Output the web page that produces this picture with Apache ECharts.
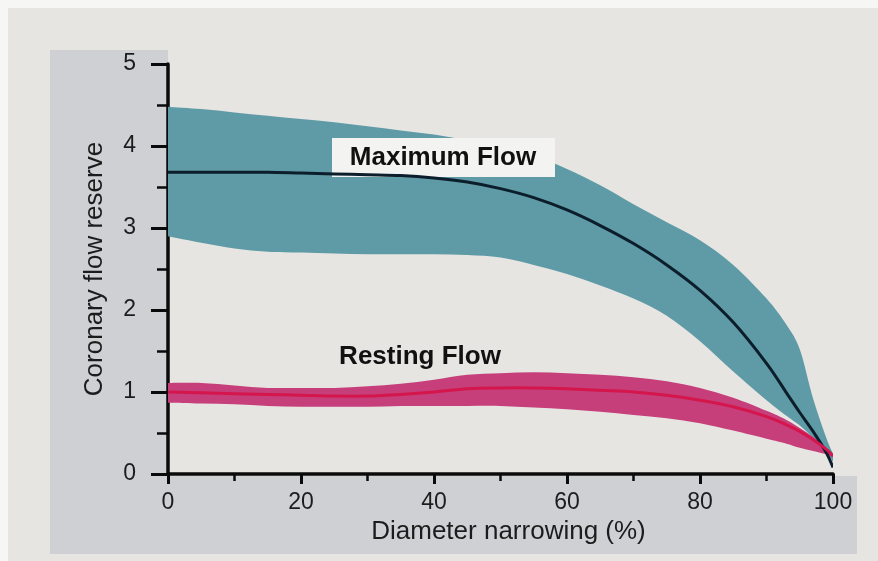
<!DOCTYPE html>
<html><head><meta charset="utf-8">
<script src="https://cdn.jsdelivr.net/npm/echarts@6/dist/echarts.min.js"></script>
<style>html,body{margin:0;padding:0;background:#e7e5e2}#c{width:878px;height:561px}</style>
</head><body><div id="c"></div>
<script>
// Diameter narrowing (%) sample positions
const narrowing = [0,5,10,15,20,25,30,35,40,45,50,55,60,65,70,75,80,85,90,93,95,97,99,100];
// Maximum flow: upper edge, mean curve, lower edge of the band
const maxUpper = [4.48,4.45,4.41,4.37,4.33,4.29,4.24,4.19,4.14,4.07,3.99,3.88,3.72,3.52,3.29,3.07,2.85,2.55,2.14,1.82,1.52,0.92,0.44,0.25];
const maxMean  = [3.68,3.68,3.68,3.68,3.67,3.66,3.65,3.64,3.61,3.56,3.48,3.37,3.22,3.03,2.81,2.55,2.24,1.85,1.35,0.99,0.75,0.52,0.26,0.08];
const maxLower = [2.90,2.82,2.75,2.71,2.70,2.69,2.68,2.68,2.68,2.67,2.64,2.55,2.44,2.30,2.14,1.93,1.62,1.25,0.90,0.71,0.59,0.44,0.26,0.15];
// Resting flow: upper edge, mean curve, lower edge of the band
const restUpper = [1.11,1.11,1.08,1.05,1.05,1.05,1.07,1.10,1.15,1.21,1.23,1.24,1.23,1.21,1.18,1.13,1.05,0.93,0.77,0.66,0.56,0.45,0.32,0.24];
const restMean  = [1.00,0.99,0.98,0.97,0.96,0.95,0.95,0.97,1.00,1.04,1.05,1.05,1.04,1.02,1.00,0.96,0.90,0.82,0.70,0.60,0.52,0.42,0.30,0.22];
const restLower = [0.87,0.86,0.85,0.83,0.82,0.82,0.82,0.83,0.83,0.83,0.83,0.81,0.79,0.76,0.72,0.68,0.62,0.53,0.43,0.37,0.32,0.28,0.24,0.20];
// Axis ticks
const xTicks = [0,20,40,60,80,100];
const yTicks = [0,1,2,3,4,5];
const labels = {max:'Maximum Flow', rest:'Resting Flow', x:'Diameter narrowing (%)', y:'Coronary flow reserve'};

const FONT = '"Liberation Sans", Arial, Helvetica, sans-serif';
const chart = echarts.init(document.getElementById('c'), null, {renderer:'canvas'});

// Catmull-Rom style cubic segments through pixel points (rendering only)
function curveSegs(pts, t){
  let d = '';
  for (let i = 0; i < pts.length - 1; i++){
    const p0 = pts[Math.max(i-1,0)], p1 = pts[i], p2 = pts[i+1], p3 = pts[Math.min(i+2, pts.length-1)];
    const c1 = [p1[0] + (p2[0]-p0[0])*t/3, p1[1] + (p2[1]-p0[1])*t/3];
    const c2 = [p2[0] - (p3[0]-p1[0])*t/3, p2[1] - (p3[1]-p1[1])*t/3];
    d += ' C' + c1[0] + ' ' + c1[1] + ' ' + c2[0] + ' ' + c2[1] + ' ' + p2[0] + ' ' + p2[1];
  }
  return d;
}
function band(upper, lower, color, z){
  return {
    type:'custom', coordinateSystem:'cartesian2d', z:z, clip:true, silent:true,
    data: narrowing.map((x,i)=>[x, upper[i], lower[i]]),
    encode:{x:0, y:[1,2]},
    renderItem:function(params, api){
      if (params.dataIndex !== 0) return null;
      const top = narrowing.map((x,i)=>api.coord([x, upper[i]]));
      const bot = narrowing.map((x,i)=>api.coord([x, lower[i]])).reverse();
      const d = 'M' + top[0][0] + ' ' + top[0][1] + curveSegs(top, 0.5) +
                ' L' + bot[0][0] + ' ' + bot[0][1] + curveSegs(bot, 0.5) + ' Z';
      return {type:'path', shape:{pathData:d}, style:{fill:color}};
    }
  };
}
function meanLine(vals, color, z){
  return {
    type:'custom', coordinateSystem:'cartesian2d', z:z, clip:true, silent:true,
    data: narrowing.map((x,i)=>[x, vals[i]]),
    encode:{x:0, y:1},
    renderItem:function(params, api){
      if (params.dataIndex !== 0) return null;
      const pts = narrowing.map((x,i)=>api.coord([x, vals[i]]));
      const d = 'M' + pts[0][0] + ' ' + pts[0][1] + curveSegs(pts, 0.5);
      return {type:'path', shape:{pathData:d}, style:{fill:null, stroke:color, lineWidth:3}};
    }
  };
}

chart.setOption({
  animation:false,
  backgroundColor:'#e7e5e2',
  grid:{left:168, right:45, top:64, bottom:87, containLabel:false},
  xAxis:{type:'value', min:0, max:100, interval:20,
    name:labels.x, nameLocation:'middle', nameGap:36,
    nameTextStyle:{fontFamily:FONT, fontSize:26, color:'#1c1c1c', padding:[0,0,0,16]},
    axisLine:{show:true, onZero:false, lineStyle:{color:'#0a0a0a', width:3.5}},
    axisTick:{show:true, inside:false, length:10, lineStyle:{color:'#0a0a0a', width:3}},
    minorTick:{show:true, splitNumber:2, length:7, lineStyle:{color:'#0a0a0a', width:2.5}},
    splitLine:{show:false},
    axisLabel:{fontFamily:FONT, fontSize:23, color:'#1c1c1c', margin:17,
      formatter:v=>xTicks.includes(v)?String(v):''}
  },
  yAxis:{type:'value', min:0, max:5, interval:1,
    name:labels.y, nameLocation:'middle', nameGap:60, nameRotate:90,
    nameTextStyle:{fontFamily:FONT, fontSize:26, color:'#1c1c1c'},
    axisLine:{show:true, onZero:false, lineStyle:{color:'#0a0a0a', width:3.5}},
    axisTick:{show:true, inside:false, length:17, lineStyle:{color:'#0a0a0a', width:3}},
    minorTick:{show:true, splitNumber:2, length:11, lineStyle:{color:'#0a0a0a', width:2.5}},
    splitLine:{show:false},
    axisLabel:{fontFamily:FONT, fontSize:23, color:'#1c1c1c', margin:32,
      formatter:v=>yTicks.includes(v)?String(v):''}
  },
  graphic:[
    {type:'rect', silent:true, z:-100, shape:{x:0,y:0,width:878,height:8}, style:{fill:'#f6f6f5'}},
    {type:'rect', silent:true, z:-100, shape:{x:0,y:0,width:8,height:561}, style:{fill:'#f6f6f5'}},
    {type:'rect', silent:true, z:-90, shape:{x:50,y:50,width:118,height:504}, style:{fill:'#ced0d4'}},
    {type:'rect', silent:true, z:-90, shape:{x:50,y:476,width:807,height:78}, style:{fill:'#ced0d4'}},
    {type:'rect', silent:true, z:5, shape:{x:332,y:138,width:223,height:39}, style:{fill:'#f3f3f1'}},
    {type:'text', silent:true, z:6, x:443, y:158, style:{text:labels.max, font:'bold 26px '+FONT, fill:'#111', align:'center', verticalAlign:'middle'}},
    {type:'text', silent:true, z:6, x:420, y:357, style:{text:labels.rest, font:'bold 26px '+FONT, fill:'#111', align:'center', verticalAlign:'middle'}}
  ],
  series:[
    band(maxUpper, maxLower, '#5f9ba6', 2),
    band(restUpper, restLower, '#c63e7a', 3),
    meanLine(maxMean, '#0c1e2c', 10),
    meanLine(restMean, '#d4164c', 10)
  ]
});
</script></body></html>
